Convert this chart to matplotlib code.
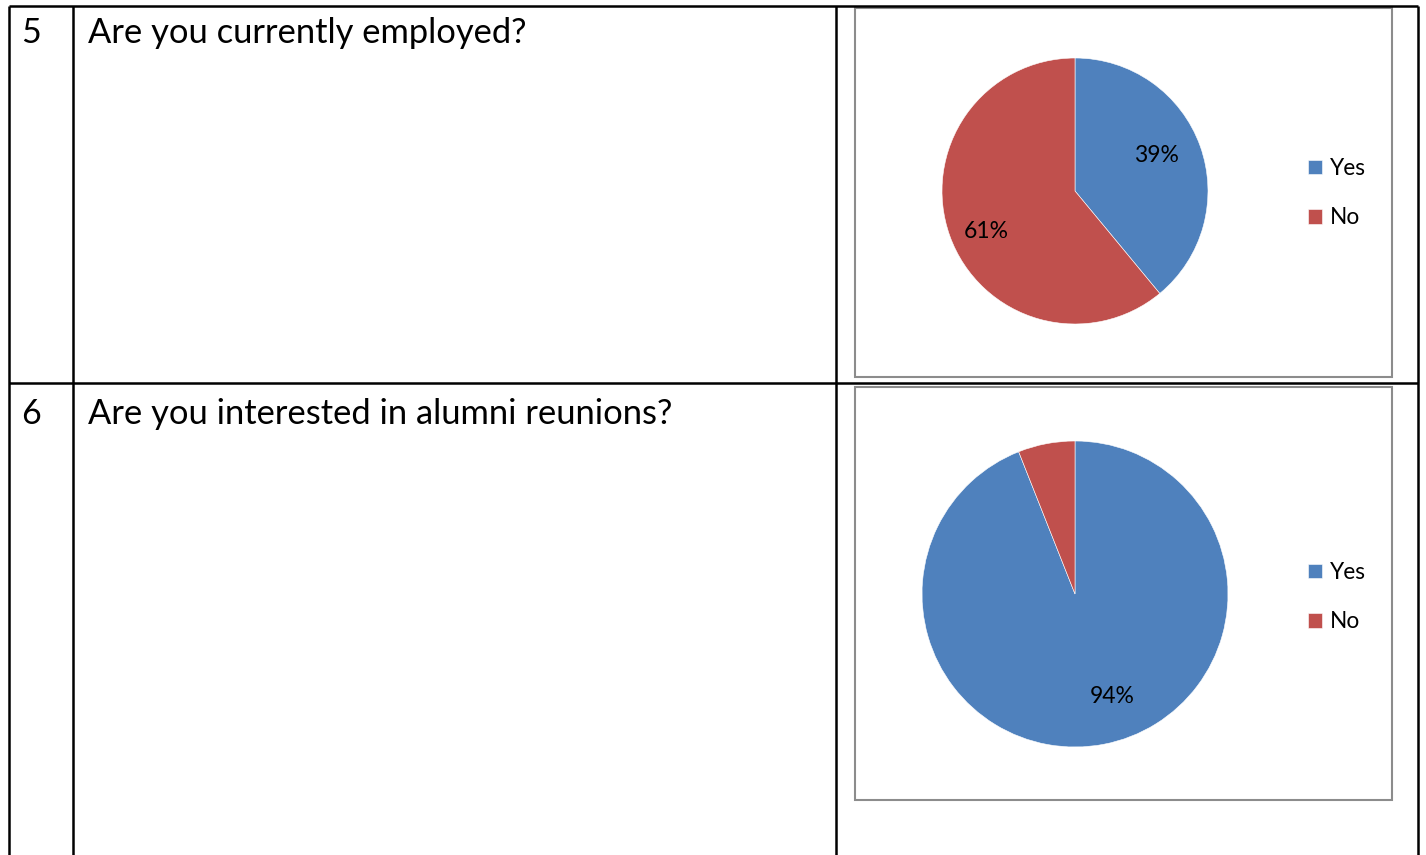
import matplotlib

matplotlib.use("Agg")
import matplotlib.pyplot as plt
import numpy as np

W, H = 1426, 855

question_numbers = ["5", "6"]
questions = ["Are you currently employed?", "Are you interested in alumni reunions?"]
answers = ["Yes", "No"]
employed_pct = [39, 61]
reunions_pct = [94, 6]

COLORS = ["#4F81BD", "#C0504D"]
plt.rcParams["font.family"] = ["Lato", "DejaVu Sans"]

fig = plt.figure(figsize=(W / 100, H / 100), dpi=100)

# background axes in pixel units for the table grid
bg = fig.add_axes([0, 0, 1, 1])
bg.set_xlim(0, W)
bg.set_ylim(H, 0)
bg.axis("off")

lw = 1.8
for x in (9, 73, 836, 1418):
    bg.plot([x, x], [6, H], color="black", lw=lw, solid_capstyle="butt")
for y in (6, 383):
    bg.plot([9, 1418], [y, y], color="black", lw=lw, solid_capstyle="butt")

# label anchors are (fraction of radius, angle in degrees)
rows = [
    dict(top=6, box=(855, 8, 1392, 377), center=(1075, 191), radius=133,
         legend_y=193, labels=[(0.67, 23.7), (0.73, 204.4)]),
    dict(top=387, box=(855, 387, 1392, 800), center=(1075, 594), radius=153,
         legend_y=597, labels=[(0.71, -70.0), None]),
]
datasets = [employed_pct, reunions_pct]

for num, question, row, values in zip(question_numbers, questions, rows, datasets):
    ty = row["top"] + 11
    bg.text(31, ty, num, fontsize=24.5, va="top", ha="center")
    bg.text(88, ty, question, fontsize=24.8, va="top", ha="left")

    x0, y0, x1, y1 = row["box"]
    bg.add_patch(plt.Rectangle((x0, y0), x1 - x0, y1 - y0, fill=False,
                               edgecolor="#8C8C8C", lw=1.5))

    cx, cy = row["center"]
    r = row["radius"]
    ax = fig.add_axes([(cx - r) / W, (H - cy - r) / H, 2 * r / W, 2 * r / H])
    wedges, _ = ax.pie(values, colors=COLORS, startangle=90, counterclock=False,
                       wedgeprops=dict(edgecolor="white", linewidth=0.4))
    ax.set_xlim(-1, 1)
    ax.set_ylim(-1, 1)
    for v, pos in zip(values, row["labels"]):
        if pos is None:
            continue
        dist, ang = pos
        ax.text(dist * np.cos(np.radians(ang)), dist * np.sin(np.radians(ang)),
                f"{v}%", fontsize=16.5, ha="center", va="center")

    ax.legend(wedges, answers, loc="center left",
              bbox_to_anchor=(1308 / W, (H - row["legend_y"]) / H),
              bbox_transform=fig.transFigure,
              frameon=False, fontsize=16.3, borderpad=0, borderaxespad=0,
              handlelength=0.62, handleheight=0.62, handletextpad=0.35, labelspacing=1.25)

fig.savefig("out.png", dpi=100)
